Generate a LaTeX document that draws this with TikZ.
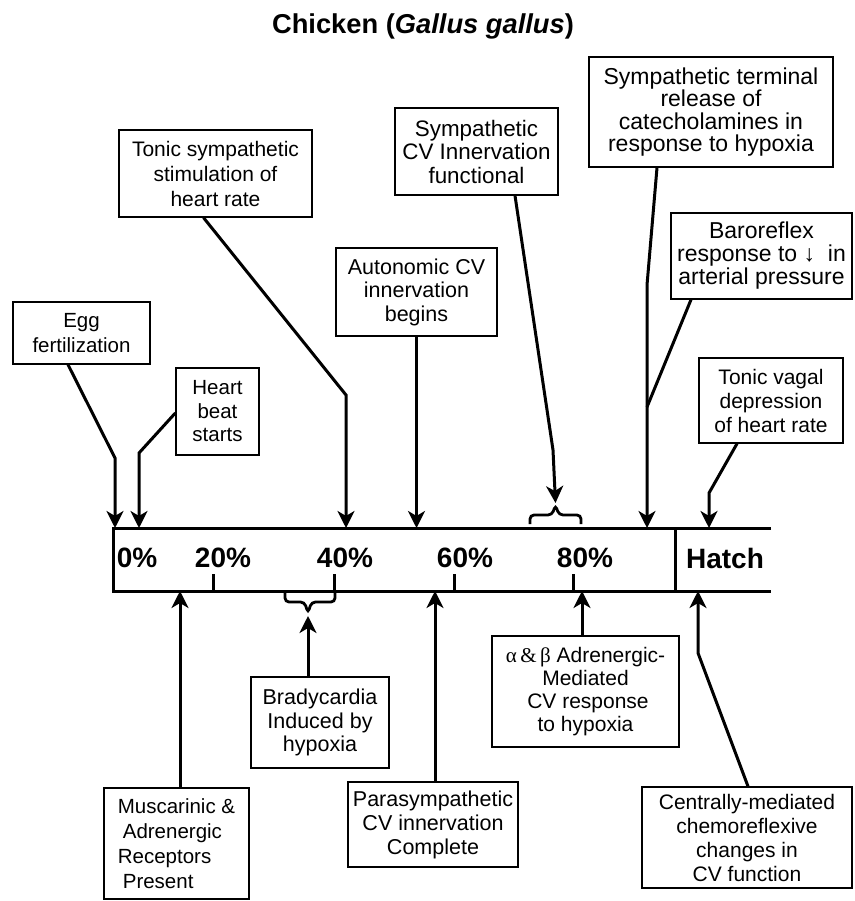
\documentclass[tikz,border=0pt]{standalone}
\usepackage{fontspec}
\setmainfont{Liberation Sans}
\newfontfamily\symfont{Liberation Serif}
\usetikzlibrary{arrows.meta}
\begin{document}
\begin{tikzpicture}[x=1pt,y=-1pt,
 box/.style={draw, line width=1.3pt, align=center, inner sep=0pt, font=\fontsize{20.5}{24}\selectfont},
 conn/.style={line width=3pt},
 arr/.style={line width=3pt,-{Stealth[length=17pt,width=17pt,inset=5pt]}},
 pct/.style={font=\fontsize{28}{30}\selectfont\bfseries, inner sep=0pt},
 barline/.style={line width=3pt},
 bracestyle/.style={line width=2.8pt, rounded corners=4pt}]
\useasboundingbox (0,0) rectangle (854,901);

% title
\node[font=\fontsize{27.3}{30}\selectfont\bfseries, inner sep=0pt] (title) at (423,26) {Chicken (\textit{Gallus gallus})};

% timeline bar
\draw[barline] (771,528) -- (113,528) -- (113,591) -- (771,591);
\draw[barline] (675,528) -- (675,591);
\draw[barline] (213,574) -- (213,591);
\draw[barline] (334,574) -- (334,591);
\draw[barline] (454,574) -- (454,591);
\draw[barline] (573,574) -- (573,591);
\node[pct] (p0) at (137,558) {0\%};
\node[pct] (p20) at (223,558) {20\%};
\node[pct] (p40) at (345,558) {40\%};
\node[pct] (p60) at (465,558) {60\%};
\node[pct] (p80) at (585,558) {80\%};
\node[pct] (hatch) at (725,558) {Hatch};

% top boxes
\node[box, minimum width=137pt, minimum height=62pt, font=\fontsize{20.5}{25}\selectfont] (egg) at (81.5,333) {Egg\\fertilization};
\node[box, minimum width=83pt, minimum height=87pt, font=\fontsize{20.5}{23.5}\selectfont] (heart) at (217.5,411.5) {Heart\\beat\\starts};
\node[box, minimum width=193pt, minimum height=87pt, font=\fontsize{21}{25}\selectfont] (tonicS) at (215.5,173.5) {Tonic sympathetic\\stimulation of\\heart rate};
\node[box, minimum width=161pt, minimum height=88pt, font=\fontsize{21.5}{23.5}\selectfont] (auto) at (416.5,292) {Autonomic CV\\innervation\\begins};
\node[box, minimum width=163pt, minimum height=87pt, font=\fontsize{22.4}{23.5}\selectfont] (symCV) at (476.5,151.5) {Sympathetic\\CV Innervation\\functional};
\node[box, minimum width=244pt, minimum height=110pt, font=\fontsize{23}{22.4}\selectfont] (symT) at (711,112) {Sympathetic terminal\\release of\\catecholamines in\\response to hypoxia};
\node[box, minimum width=181pt, minimum height=86pt, font=\fontsize{23}{23}\selectfont] (baro) at (761.5,256) {Baroreflex\\response to {\symfont↓}\ \ in\\arterial pressure};
\node[box, minimum width=144pt, minimum height=85pt, font=\fontsize{21}{24}\selectfont] (vagal) at (771,400.5) {Tonic vagal\\depression\\of heart rate};

% bottom boxes
\node[box, minimum width=145pt, minimum height=111pt, align=left, font=\fontsize{20.5}{25}\selectfont] (musc) at (176.5,843.5) {Muscarinic \&\\\hspace{5pt}Adrenergic\\Receptors\\\hspace{5pt}Present};
\node[box, minimum width=138pt, minimum height=91pt, font=\fontsize{21.5}{23.5}\selectfont] (brady) at (320,722.5) {Bradycardia\\Induced by\\hypoxia};
\node[box, minimum width=170pt, minimum height=85pt, font=\fontsize{21.5}{24}\selectfont] (para) at (433,824.5) {Parasympathetic\\CV innervation\\Complete};
\node[box, minimum width=187pt, minimum height=111pt, font=\fontsize{21}{23}\selectfont] (ab) at (585.5,691.5) {{\symfont α\,\&\,β}\ Adrenergic-\\Mediated\\\hspace{5pt}CV response\\to hypoxia};
\node[box, minimum width=210pt, minimum height=101pt, font=\fontsize{21}{24}\selectfont] (central) at (747,837.5) {Centrally-mediated\\chemoreflexive\\changes in\\CV function};

% coordinates
\coordinate (eggB) at (115,458);
\coordinate (eggT) at (115,528);
\coordinate (heartB) at (139,453);
\coordinate (heartT) at (139,528);
\coordinate (tonB) at (346,395);
\coordinate (tonT) at (346,528);
\coordinate (autoT) at (416.5,528);
\coordinate (symCVB) at (553,450);
\coordinate (symCVT) at (555.5,503);
\coordinate (symTB) at (647,285);
\coordinate (symTT) at (647,528);
\coordinate (baroJ) at (647,407);
\coordinate (vagB) at (709,493);
\coordinate (vagT) at (709,528);
\coordinate (muscT) at (180,591);
\coordinate (bradyT) at (308,616);
\coordinate (paraT) at (435,591);
\coordinate (abT) at (582,591);
\coordinate (cenB) at (698,653);
\coordinate (cenT) at (698,591);

% braces
\draw[bracestyle] (530,524) -- (530,515) -- (552,515) -- (555.5,505) -- (559,515) -- (581,515) -- (581,524);
\draw[bracestyle] (285,593) -- (285,602) -- (304.5,602) -- (308,613) -- (311.5,602) -- (335,602) -- (335,593);

% connectors top
\draw[arr] ([xshift=-13.5pt]egg.south) -- (eggB) -- (eggT);
\draw[arr] ([yshift=-1.5pt]heart.west) -- (heartB) -- (heartT);
\draw[arr] ([xshift=-12pt]tonicS.south) -- (tonB) -- (tonT);
\draw[arr] (auto.south) -- (autoT);
\draw[arr] ([xshift=38.5pt]symCV.south) -- (symCVB) -- (symCVT);
\draw[arr] ([xshift=-54pt]symT.south) -- (symTB) -- (symTT);
\draw[conn] ([xshift=-70.5pt]baro.south) -- (baroJ);
\draw[arr] ([xshift=-34pt]vagal.south) -- (vagB) -- (vagT);

% connectors bottom
\draw[arr] ([xshift=3.5pt]musc.north) -- (muscT);
\draw[arr] ([xshift=-12pt]brady.north) -- (bradyT);
\draw[arr] ([xshift=2pt]para.north) -- (paraT);
\draw[arr] ([xshift=-3.5pt]ab.north) -- (abT);
\draw[arr] ([xshift=1pt]central.north) -- (cenB) -- (cenT);
\end{tikzpicture}
\end{document}
